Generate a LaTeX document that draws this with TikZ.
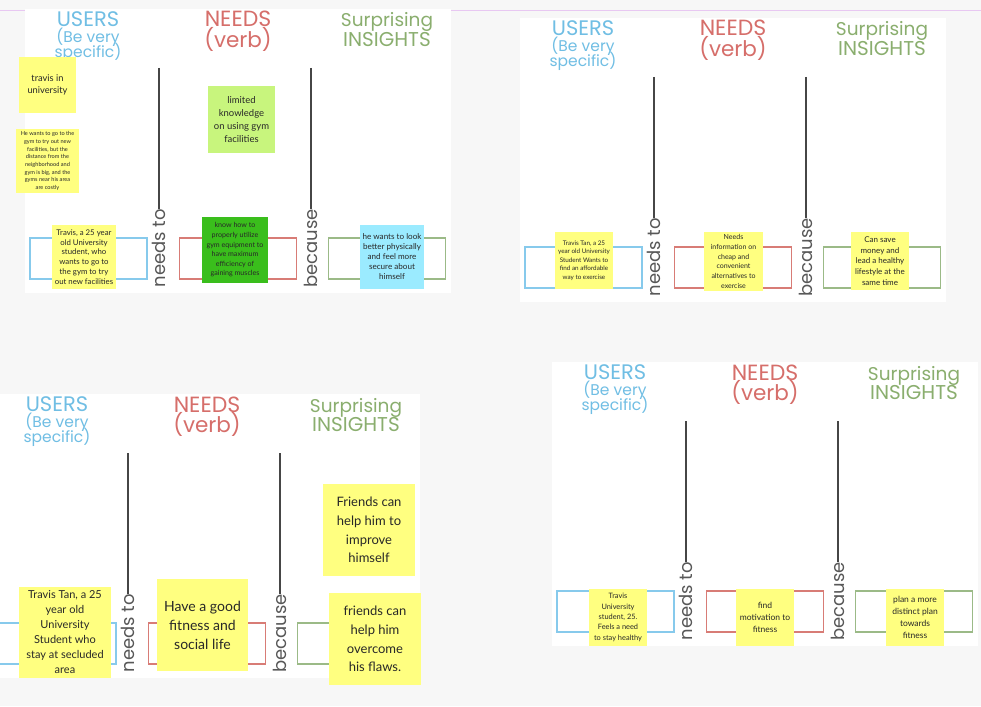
\documentclass[tikz,border=0pt]{standalone}
\usepackage{fontspec}
\setmainfont{Lato}
\newfontfamily\headfont{Poppins}
\definecolor{pageback}{RGB}{247,247,247}
\definecolor{purpleline}{RGB}{232,200,242}
\definecolor{hdrblue}{RGB}{112,190,228}
\definecolor{hdrred}{RGB}{214,110,106}
\definecolor{hdrgreen}{RGB}{138,174,110}
\definecolor{frblue}{RGB}{135,202,236}
\definecolor{frred}{RGB}{216,124,118}
\definecolor{frgreen}{RGB}{155,186,135}
\definecolor{divgrey}{RGB}{70,70,70}
\definecolor{labgrey}{RGB}{88,88,88}
\definecolor{stickyyellow}{RGB}{255,255,128}
\definecolor{stickylgreen}{RGB}{200,245,125}
\definecolor{stickydgreen}{RGB}{58,190,28}
\definecolor{stickycyan}{RGB}{155,235,255}
\definecolor{stickytext}{RGB}{40,40,40}
\tikzset{
  panelbg/.style={fill=white, draw=none, minimum width=426pt, minimum height=284pt, inner sep=0pt},
  hdr/.style={inner sep=0pt, anchor=base},
  rotlab/.style={font=\headfont\fontsize{18}{18}\selectfont, text=labgrey, rotate=90, inner sep=0pt, anchor=east},
  divline/.style={draw=divgrey, line width=2pt},
  framebox/.style={draw, line width=1.7pt, minimum width=117pt, minimum height=41pt, inner sep=0pt},
  sticky/.style={fill=stickyyellow, inner sep=0pt, align=center, text=stickytext},
}
\newcommand\designpanel[3]{%
\begin{scope}[shift={(#2,#3)}]
  \node[panelbg] (#1bg) at (213,142) {};
  \node[hdr, text=hdrblue, font=\headfont\fontsize{21}{21}\selectfont] (#1usa) at (63,17.5) {USERS};
  \node[hdr, text=hdrblue, font=\headfont\fontsize{15.5}{15.5}\selectfont] (#1usb) at (63,33.5) {(Be very};
  \node[hdr, text=hdrblue, font=\headfont\fontsize{15.5}{15.5}\selectfont] (#1usc) at (63,48.5) {specific)};
  \node[hdr, text=hdrred, font=\headfont\fontsize{22}{22}\selectfont] (#1nda) at (213,18) {NEEDS};
  \node[hdr, text=hdrred, font=\headfont\fontsize{21.5}{21.5}\selectfont] (#1ndb) at (213,38.5) {(verb)};
  \node[hdr, text=hdrgreen, font=\headfont\fontsize{18.5}{18.5}\selectfont] (#1ina) at (362,18) {Surprising};
  \node[hdr, text=hdrgreen, font=\headfont\fontsize{20}{20}\selectfont] (#1inb) at (362,37.5) {INSIGHTS};
  \coordinate (#1topa) at (134,59);
  \coordinate (#1topb) at (286,59);
  \node[rotlab] (#1laba) at (134,200) {needs to};
  \node[rotlab] (#1labb) at (286,200) {because};
  \draw[divline] (#1topa) -- (#1laba.east);
  \draw[divline] (#1topb) -- (#1labb.east);
  \node[framebox, draw=frblue] (#1fu) at (63.5,249.5) {};
  \node[framebox, draw=frred] (#1fn) at (213,249.5) {};
  \node[framebox, draw=frgreen] (#1fi) at (362,249.5) {};
\end{scope}}
\begin{document}
\begin{tikzpicture}[x=1pt,y=-1pt]
  \path[use as bounding box, fill=pageback] (0,0) rectangle (981,706);
  \coordinate (pl) at (0,10.5);
  \coordinate (pr) at (981,10.5);
  \draw[purpleline, line width=1pt] (pl) -- (pr);

  \designpanel{A}{25}{9}
  \designpanel{B}{520}{18}
  \designpanel{C}{-6}{394}
  \designpanel{D}{552}{362}

  % Panel A stickies
  \node[sticky, minimum width=57pt, minimum height=56pt, font=\fontsize{9.3}{12}\selectfont] (a1) at (47.5,85) {travis in\\university};
  \node[sticky, minimum width=63pt, minimum height=64pt, font=\fontsize{5.6}{7.7}\selectfont] (a2) at (47.5,161) {He wants to go to the\\gym to try out new\\facilities, but the\\distance from the\\neighborhood and\\gym is big, and the\\gyms near his area\\are costly};
  \node[sticky, minimum width=64pt, minimum height=64pt, font=\fontsize{7.8}{9.8}\selectfont] (a3) at (84,257) {Travis, a 25 year\\old University\\student, who\\wants to go to\\the gym to try\\out new facilities};
  \node[sticky, fill=stickylgreen, minimum width=67pt, minimum height=67pt, font=\fontsize{9.5}{13}\selectfont] (a4) at (241.5,119.5) {limited\\knowledge\\on using gym\\facilities};
  \node[sticky, fill=stickydgreen, minimum width=66pt, minimum height=66pt, font=\fontsize{7.1}{9.6}\selectfont] (a5) at (235,250) {know how to\\properly utilize\\gym equipment to\\have maximum\\efficiency of\\gaining muscles};
  \node[sticky, fill=stickycyan, minimum width=64pt, minimum height=64pt, font=\fontsize{8.1}{10}\selectfont] (a6) at (392,257) {he wants to look\\better physically\\and feel more\\secure about\\himself};

  % Panel B stickies
  \node[sticky, minimum width=58pt, minimum height=57pt, font=\fontsize{6.3}{8.5}\selectfont] (b1) at (584,260.5) {Travis Tan, a 25\\year old University\\Student Wants to\\find an affordable\\way to exercise};
  \node[sticky, minimum width=59pt, minimum height=59pt, font=\fontsize{7}{9.7}\selectfont] (b2) at (733.5,261.5) {Needs\\information on\\cheap and\\convenient\\alternatives to\\exercise};
  \node[sticky, minimum width=58pt, minimum height=58pt, font=\fontsize{8}{10.7}\selectfont] (b3) at (880,261) {Can save\\money and\\lead a healthy\\lifestyle at the\\same time};

  % Panel C stickies
  \node[sticky, minimum width=92pt, minimum height=91pt, font=\fontsize{11}{15}\selectfont] (c1) at (65,632.5) {Travis Tan, a 25\\year old\\University\\Student who\\stay at secluded\\area};
  \node[sticky, minimum width=91pt, minimum height=92pt, font=\fontsize{14}{19}\selectfont] (c2) at (202.5,625) {Have a good\\fitness and\\social life};
  \node[sticky, minimum width=92pt, minimum height=92pt, font=\fontsize{13}{18.7}\selectfont] (c3) at (369,530) {Friends can\\help him to\\improve\\himself};
  \node[sticky, minimum width=92pt, minimum height=92pt, font=\fontsize{13}{18.7}\selectfont] (c4) at (375,639) {friends can\\help him\\overcome\\his flaws.};

  % Panel D stickies
  \node[sticky, minimum width=58pt, minimum height=57pt, font=\fontsize{7.4}{10.3}\selectfont] (d1) at (618,617.5) {Travis\\University\\student, 25.\\Feels a need\\to stay healthy};
  \node[sticky, minimum width=58pt, minimum height=57pt, font=\fontsize{8.5}{12}\selectfont] (d2) at (765,617.5) {find\\motivation to\\fitness};
  \node[sticky, minimum width=58pt, minimum height=57pt, font=\fontsize{8.5}{12}\selectfont] (d3) at (915,617.5) {plan a more\\distinct plan\\towards\\fitness};
\end{tikzpicture}
\end{document}
